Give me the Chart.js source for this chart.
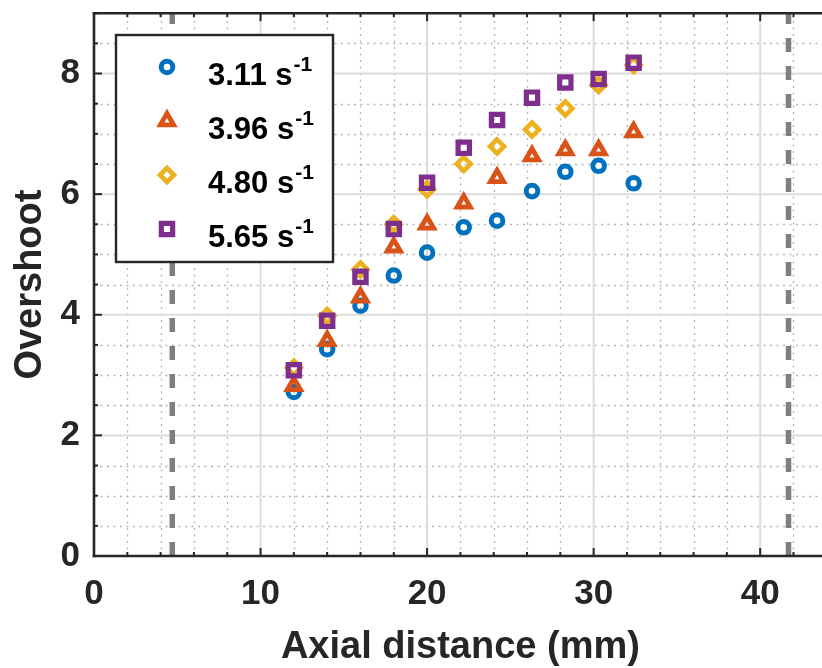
<!DOCTYPE html>
<html>
<head>
<meta charset="utf-8">
<script src="https://cdn.jsdelivr.net/npm/chart.js@4/dist/chart.umd.min.js"></script>
<style>
html, body { margin: 0; padding: 0; background: #fff; overflow: hidden; }
#wrap { width: 822px; height: 668px; overflow: hidden; position: relative; }
canvas { display: block; }
</style>
</head>
<body>
<div id="wrap"><canvas id="c" width="840" height="668"></canvas></div>
<script>
// Axial positions of the measurement points (mm)
const axialDistance = [12, 14, 16, 18, 20, 22.2, 24.2, 26.3, 28.3, 30.3, 32.4];

// Overshoot at each position, one array per shear rate
const overshoot311 = [2.72, 3.43, 4.15, 4.65, 5.03, 5.45, 5.56, 6.05, 6.37, 6.47, 6.18];
const overshoot396 = [2.82, 3.57, 4.29, 5.12, 5.50, 5.85, 6.27, 6.63, 6.73, 6.73, 7.03];
const overshoot480 = [3.12, 3.98, 4.75, 5.50, 6.08, 6.50, 6.79, 7.07, 7.42, 7.81, 8.14];
const overshoot565 = [3.08, 3.90, 4.63, 5.42, 6.19, 6.77, 7.23, 7.60, 7.85, 7.91, 8.18];

// Legend labels (shear rate, s^-1)
const shearRates = ['3.11', '3.96', '4.80', '5.65'];

// Channel boundaries shown as dashed vertical lines (mm)
const boundaryLines = [4.7, 41.7];

// Axis ranges and labelled ticks
const xRange = [0, 44];
const yRange = [0, 9];
const xTickValues = [0, 10, 20, 30, 40];
const yTickValues = [0, 2, 4, 6, 8];

const INK = '#262626';
const FONT = '"Liberation Sans", Arial, Helvetica, sans-serif';

const seriesStyle = [
  { color: '#0072BD', shape: 'circle',  radius: 5.8, width: 5.0 },
  { color: '#D95319', shape: 'triangle', radius: 7.6, width: 4.8 },
  { color: '#EDB120', shape: 'rectRot', radius: 7.0, width: 4.6 },
  { color: '#7E2F8E', shape: 'rect',    radius: 8.0, width: 5.2 }
];
const seriesValues = [overshoot311, overshoot396, overshoot480, overshoot565];

const toPoints = (xs, ys) => xs.map((x, i) => ({ x: x, y: ys[i] }));

const datasets = [];
boundaryLines.forEach(bx => {
  datasets.push({
    data: [{ x: bx, y: yRange[0] }, { x: bx, y: yRange[1] }],
    showLine: true,
    borderColor: '#7f7f7f',
    borderWidth: 5.5,
    borderDash: [14, 14],
    pointRadius: 0,
    order: 10
  });
});
seriesValues.forEach((vals, i) => {
  const s = seriesStyle[i];
  datasets.push({
    label: shearRates[i] + ' s-1',
    data: toPoints(axialDistance, vals),
    showLine: false,
    pointStyle: s.shape,
    pointRadius: s.radius,
    pointBorderWidth: s.width,
    pointBorderColor: s.color,
    pointBackgroundColor: 'rgba(0,0,0,0)',
    order: 5 - i
  });
});

function seg(ctx, x1, y1, x2, y2) {
  ctx.beginPath();
  ctx.moveTo(x1, y1);
  ctx.lineTo(x2, y2);
  ctx.stroke();
}

// Grid, box, tick marks and legend drawn around the Chart.js scales
const frame = {
  id: 'frame',
  beforeDatasetsDraw(chart) {
    const { ctx, chartArea: a, scales: { x, y } } = chart;
    ctx.save();
    // minor grid (dotted)
    ctx.strokeStyle = '#b4b4b4';
    ctx.lineWidth = 1.3;
    ctx.setLineDash([2, 4.5]);
    for (let v = xRange[0] + 2; v < xRange[1]; v += 2) {
      if (v % 10 === 0) continue;
      const px = Math.round(x.getPixelForValue(v)) + 0.5;
      seg(ctx, px, a.bottom, px, a.top);
    }
    for (let v = yRange[0] + 0.5; v < yRange[1]; v += 0.5) {
      if (v % 2 === 0) continue;
      const py = Math.round(y.getPixelForValue(v)) + 0.5;
      seg(ctx, a.left, py, a.right, py);
    }
    // major grid (solid)
    ctx.setLineDash([]);
    ctx.strokeStyle = '#dcdcdc';
    ctx.lineWidth = 2;
    xTickValues.forEach(v => {
      if (v === xRange[0]) return;
      const px = x.getPixelForValue(v);
      seg(ctx, px, a.bottom, px, a.top);
    });
    yTickValues.forEach(v => {
      if (v === yRange[0]) return;
      const py = y.getPixelForValue(v);
      seg(ctx, a.left, py, a.right, py);
    });
    ctx.restore();
  },
  afterDatasetsDraw(chart) {
    const { ctx, chartArea: a, scales: { x, y } } = chart;
    ctx.save();
    ctx.strokeStyle = INK;
    ctx.lineWidth = 2;
    // inward tick marks
    for (let v = xRange[0]; v <= xRange[1]; v += 2) {
      const len = v % 10 === 0 ? 8 : 4;
      const px = x.getPixelForValue(v);
      seg(ctx, px, a.bottom, px, a.bottom - len);
      seg(ctx, px, a.top, px, a.top + len);
    }
    for (let v = yRange[0]; v <= yRange[1]; v += 0.5) {
      const len = v % 2 === 0 ? 8 : 4;
      const py = y.getPixelForValue(v);
      seg(ctx, a.left, py, a.left + len, py);
    }
    // axes box
    ctx.lineWidth = 2.6;
    ctx.lineCap = 'square';
    seg(ctx, a.left, a.bottom, a.right, a.bottom);
    seg(ctx, a.left, a.top, a.right, a.top);
    seg(ctx, a.left, a.top, a.left, a.bottom);
    seg(ctx, a.right, a.top, a.right, a.bottom);
    ctx.restore();
  },
  afterDraw(chart) {
    const { ctx } = chart;
    const box = { l: 116, t: 35, r: 333, b: 262 };
    ctx.save();
    ctx.fillStyle = '#fff';
    ctx.fillRect(box.l, box.t, box.r - box.l, box.b - box.t);
    ctx.strokeStyle = INK;
    ctx.lineWidth = 2.4;
    ctx.strokeRect(box.l, box.t, box.r - box.l, box.b - box.t);

    const rowBase = [85, 139, 193, 247];
    shearRates.forEach((rate, i) => {
      const s = seriesStyle[i];
      const base = rowBase[i];
      ctx.strokeStyle = s.color;
      ctx.fillStyle = 'rgba(0,0,0,0)';
      ctx.lineWidth = s.width;
      Chart.helpers.drawPoint(ctx, { pointStyle: s.shape, radius: s.radius, borderWidth: s.width, rotation: 0 }, 167, base - 18);

      ctx.fillStyle = '#000';
      ctx.textBaseline = 'alphabetic';
      ctx.textAlign = 'left';
      ctx.font = 'bold 31px ' + FONT;
      const main = rate + ' s';
      ctx.fillText(main, 208, base);
      const w = ctx.measureText(main).width;
      ctx.font = 'bold 21px ' + FONT;
      ctx.fillText('-1', 208 + w + 1, base - 14);
    });
    ctx.restore();
  }
};

new Chart(document.getElementById('c'), {
  type: 'scatter',
  data: { datasets: datasets },
  options: {
    responsive: false,
    animation: false,
    events: [],
    layout: { padding: { top: 13, right: 10, left: 0, bottom: 0 } },
    plugins: { legend: { display: false }, tooltip: { enabled: false } },
    scales: {
      x: {
        type: 'linear',
        min: xRange[0],
        max: xRange[1],
        grid: { display: false, drawTicks: false },
        border: { display: false },
        afterBuildTicks: s => { s.ticks = xTickValues.map(v => ({ value: v })); },
        afterFit: s => { s.height = 112; s.paddingLeft = 0; s.paddingRight = 0; },
        ticks: { color: INK, padding: 17, font: { family: FONT, size: 35, weight: 'bold' }, maxRotation: 0 },
        title: { display: true, text: 'Axial distance (mm)', color: INK,
                 font: { family: FONT, size: 38, weight: 'bold', lineHeight: 1 },
                 padding: { top: 0, bottom: 1 } }
      },
      y: {
        type: 'linear',
        min: yRange[0],
        max: yRange[1],
        grid: { display: false, drawTicks: false },
        border: { display: false },
        afterBuildTicks: s => { s.ticks = yTickValues.map(v => ({ value: v })); },
        afterFit: s => { s.width = 94; s.paddingTop = 0; s.paddingBottom = 0; },
        ticks: { color: INK, padding: 14, font: { family: FONT, size: 35, weight: 'bold' } },
        title: { display: true, text: 'Overshoot', color: INK,
                 font: { family: FONT, size: 38, weight: 'bold', lineHeight: 1 },
                 padding: { top: 12, bottom: 0 } }
      }
    }
  },
  plugins: [frame]
});
</script>
</body>
</html>
